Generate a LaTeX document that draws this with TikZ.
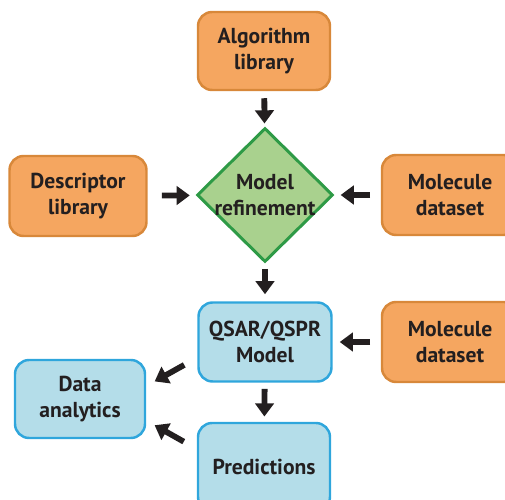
\documentclass[tikz,border=0pt]{standalone}
\usepackage{fontspec}
\setmainfont{PT Sans}
\usetikzlibrary{shapes.geometric,arrows.meta}
\definecolor{boxorange}{HTML}{F5A660}
\definecolor{lineorange}{HTML}{D8883A}
\definecolor{boxblue}{HTML}{B4DDE9}
\definecolor{lineblue}{HTML}{2FA6DC}
\definecolor{boxgreen}{HTML}{A9D18E}
\definecolor{linegreen}{HTML}{2E9A46}
\definecolor{ink}{HTML}{231F20}
\begin{document}
\begin{tikzpicture}[x=0.02cm, y=-0.02cm]

      \tikzset{orangebox/.style={draw=lineorange, fill=boxorange, line width=1.4pt, rounded corners=8pt, align=center, text=ink, font=\fontsize{12.3}{14.4}\selectfont\bfseries},
               bluebox/.style={orangebox, draw=lineblue, fill=boxblue},
               refbox/.style={diamond, draw=linegreen, fill=boxgreen, line width=1.7pt, inner sep=-7pt, minimum width=2.72cm, minimum height=2.68cm, align=center, text=ink, font=\fontsize{12.3}{14.4}\selectfont\bfseries},
               fatarrow/.style={draw=ink, line width=3.3pt, -{Triangle[length=7.5pt, width=10.5pt]}}}
      \useasboundingbox (0,0) rectangle (505,500);
%% Boxes
      	\node[orangebox, minimum width=2.64cm, minimum height=1.56cm] (alg) at (264,51) {Algorithm\\library};
      	\node[orangebox, minimum width=2.74cm, minimum height=1.6cm] (desc) at (78,196) {Descriptor\\library};
      	\node[refbox] (ref) at (265,195) {Model\\refinement};
      	\node[orangebox, minimum width=2.72cm, minimum height=1.6cm] (mol1) at (450,195) {Molecule\\dataset};
      	\node[bluebox, minimum width=2.66cm, minimum height=1.58cm] (qsar) at (265,342) {QSAR/QSPR\\Model};
      	\node[orangebox, minimum width=2.72cm, minimum height=1.6cm] (mol2) at (450,342) {Molecule\\dataset};
      	\node[bluebox, minimum width=2.6cm, minimum height=1.56cm] (da) at (80,399) {Data\\analytics};
      	\node[bluebox, minimum width=2.64cm, minimum height=1.76cm] (pred) at (264,467) {Predictions};
%Arrows
		\draw[fatarrow, shorten <=4pt, shorten >=2pt] (alg) -- (ref);
		\draw[fatarrow, shorten <=8pt, shorten >=3.5pt] (desc) -- (ref);
		\draw[fatarrow, shorten <=6pt, shorten >=3.5pt] (mol1) -- (ref);
		\draw[fatarrow, shorten <=3pt, shorten >=4pt] (ref) -- (qsar);
		\draw[fatarrow, shorten <=6pt, shorten >=4pt] (mol2) -- (qsar);
		\draw[fatarrow, shorten <=3.5pt, shorten >=3pt] (qsar) -- (pred);
		\draw[fatarrow, shorten <=8.5pt, shorten >=5.5pt] (qsar.193) -- (da.11);
		\draw[fatarrow, shorten <=8.5pt, shorten >=5.5pt] (pred.165) -- (da.342);

	\end{tikzpicture}
\end{document}
